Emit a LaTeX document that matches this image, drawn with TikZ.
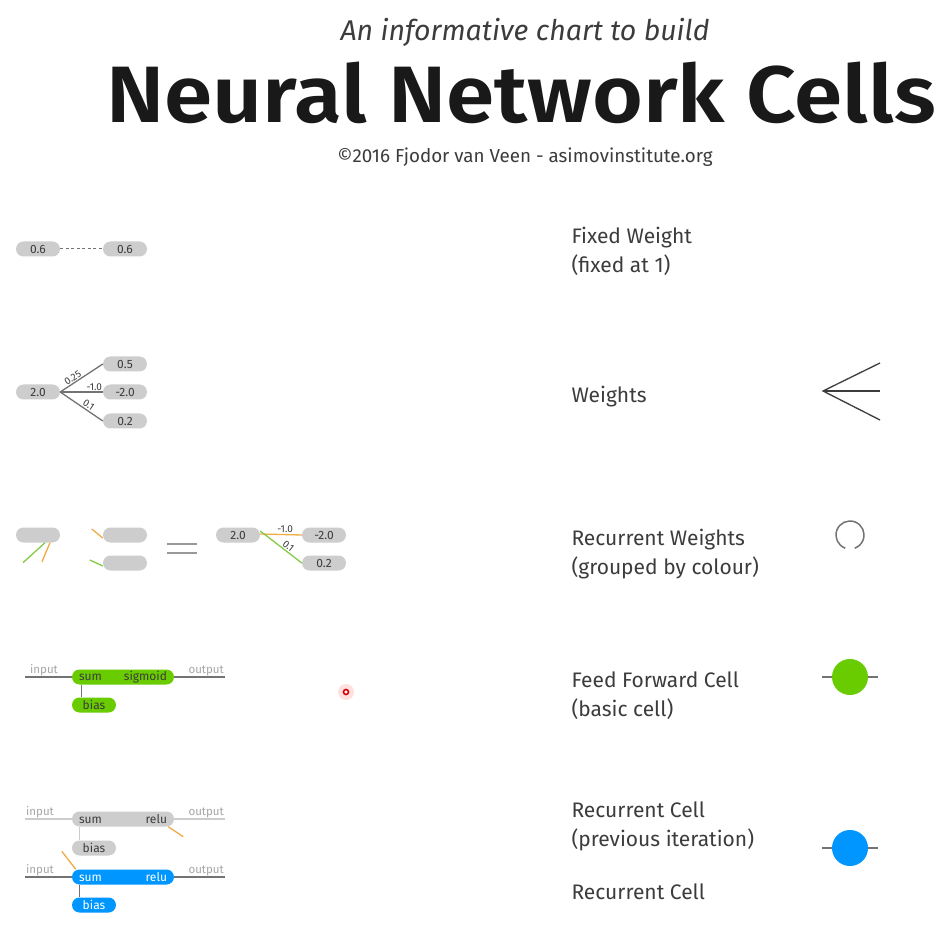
\documentclass[tikz,border=0pt]{standalone}
\usepackage{fontspec}
\setmainfont{Fira Sans}
\newfontfamily\titlefont{Fira Sans SemiBold}
\usetikzlibrary{positioning}

\definecolor{cellgreen}{RGB}{104,204,0}
\definecolor{cellblue}{RGB}{0,150,255}
\definecolor{pillgray}{RGB}{205,205,205}
\definecolor{wireorange}{RGB}{240,170,70}
\definecolor{wiregreen}{RGB}{130,205,70}
\definecolor{inkgray}{RGB}{60,60,60}

\begin{document}
\begin{tikzpicture}[
    x=1pt, y=-1pt,
    pill/.style={fill=pillgray, rounded corners=7.5pt, minimum width=44pt,
        minimum height=15pt, inner sep=0pt, text=inkgray,
        font=\fontsize{12}{12}\selectfont},
    cellpill/.style={pill, minimum width=102pt, text width=88pt, align=left},
    lbl/.style={anchor=west, align=left, text=inkgray,
        font=\fontsize{21}{29}\selectfont},
    io/.style={text=gray!70, font=\fontsize{11.5}{11.5}\selectfont, inner sep=1pt},
    wlbl/.style={text=inkgray, font=\fontsize{10}{10}\selectfont, inner sep=0pt},
    wire/.style={draw=gray!90!black, line width=1.3pt},
    oldwire/.style={draw=gray!40, line width=1.3pt},
]
    \useasboundingbox[fill=white] (0,0) rectangle (946,941);

    % heading
    \node[text=inkgray, font=\fontsize{28.5}{28.5}\selectfont\itshape] (sub) at (525,32)
        {An informative chart to build};
    \node[text=black!90, font=\fontsize{80}{80}\titlefont] (title) at (521,93)
        {\scalebox{1.09}[1]{Neural Network Cells}};
    \node[text=inkgray, font=\fontsize{18.8}{18.8}\selectfont] (credit) at (525,157)
        {©2016 Fjodor van Veen - asimovinstitute.org};

    % fixed weight
    \node[pill] (fa) at (38,249) {0.6};
    \node[pill] (fb) at (125,249) {0.6};
    \draw[wire, dashed, line width=1pt, dash pattern=on 3pt off 2.5pt] (fa) -- (fb);
    \node[lbl] (lfixed) at (568,251) {Fixed Weight\\(fixed at 1)};

    % weights
    \node[pill] (wsrc) at (38,392) {2.0};
    \node[pill] (wa) at (125,364) {0.5};
    \node[pill] (wb) at (125,392) {-2.0};
    \node[pill] (wc) at (125,421) {0.2};
    \draw[wire] (wsrc.east) -- (wa.west)
        node[wlbl, pos=0.36, above=1pt, sloped] {0.25};
    \draw[wire] (wsrc.east) -- (wb.west) node[wlbl, pos=0.8, above=1pt] {-1.0};
    \draw[wire] (wsrc.east) -- (wc.west)
        node[wlbl, pos=0.6, above=1pt, sloped] {0.1};
    \node[lbl] (lweights) at (568,397) {Weights};
    \coordinate (wapex) at (823,391);
    \draw[wire, draw=inkgray] (880,363) -- (wapex) -- (880,420);
    \draw[wire, draw=inkgray] (wapex) -- (880,391);

    % recurrent weights
    \node[pill] (ra) at (38,535) {};
    \draw[wiregreen, line width=1.3pt] ([xshift=7pt]ra.south) -- ++(-22,20);
    \draw[wireorange, line width=1.3pt] ([xshift=12pt]ra.south) -- ++(-8,19);
    \node[pill] (rb) at (125,535) {};
    \node[pill] (rc) at (125,563) {};
    \draw[wireorange, line width=1.3pt] ([yshift=-3pt]rb.west) -- ++(-11,-9);
    \draw[wiregreen, line width=1.3pt] ([yshift=-3pt]rc.west) -- ++(-13,-6);
    \draw[gray!80, line width=1.6pt] (167,544) -- (197,544) (167,553) -- (197,553);
    \node[pill] (rsrc) at (238,535) {2.0};
    \node[pill] (rd) at (324,535) {-2.0};
    \node[pill] (re) at (324,563) {0.2};
    \draw[wireorange, line width=1.3pt] ([yshift=1pt]rsrc.east) -- (rd.west)
        node[wlbl, pos=0.6, above=1pt] {-1.0};
    \draw[wiregreen, line width=1.3pt] ([yshift=4pt]rsrc.east) -- (re.west)
        node[wlbl, pos=0.6, above=1pt, sloped] {0.1};
    \node[lbl] (lrec) at (568,554) {Recurrent Weights\\(grouped by colour)};
    \coordinate (rloop) at (850,535);
    \draw[gray!90!black, line width=1.5pt] (rloop) ++(110:14) arc (110:430:14);

    % feed forward cell
    \coordinate (ffin) at (25,677);
    \coordinate (ffout) at (225,677);
    \node[cellpill, fill=cellgreen] (ffcell) at (123,677) {sum\hfill sigmoid};
    \node[pill, fill=cellgreen] (ffbias) at (94,705) {bias};
    \draw[wire] (ffin) -- (ffcell.west);
    \draw[wire] (ffcell.east) -- (ffout);
    \draw[wire] ([xshift=10pt]ffcell.south west) -- ([xshift=10pt]ffbias.north west);
    \node[io, anchor=south west] (ffinl) at (ffin) {\hspace{4pt}input};
    \node[io, anchor=south east] (ffoutl) at (ffout) {output};
    \node[lbl] (lff) at (568,696) {Feed Forward Cell\\(basic cell)};
    \draw[wire] (822,677) -- (878,677);
    \node[circle, fill=cellgreen, minimum size=36pt, inner sep=0pt] (ffdot) at (850,677) {};

    % pointer mark
    \node[circle, fill=red!12, minimum size=16pt, inner sep=0pt] (ptr) at (346,692) {};
    \node[circle, draw=red!85!black, fill=white, line width=1.6pt,
        minimum size=5pt, inner sep=0pt] (ptrdot) at (ptr) {};

    % recurrent cell, previous iteration
    \coordinate (pin) at (25,819);
    \coordinate (pout) at (225,819);
    \node[cellpill] (pcell) at (123,819) {sum\hfill relu};
    \node[pill] (pbias) at (94,848) {bias};
    \draw[oldwire] (pin) -- (pcell.west);
    \draw[oldwire] (pcell.east) -- (pout);
    \draw[oldwire] ([xshift=8pt]pcell.south west) -- ([xshift=8pt]pbias.north west);
    \node[io, anchor=south west] (pinl) at (pin) {input};
    \node[io, anchor=south east] (poutl) at (pout) {output};
    \draw[wireorange, line width=1.3pt] ([xshift=-6pt]pcell.south east) -- ++(15,10);

    % recurrent cell
    \coordinate (cin) at (25,877);
    \coordinate (cout) at (225,877);
    \node[cellpill, fill=cellblue, text=white] (ccell) at (123,877) {sum\hfill relu};
    \node[pill, fill=cellblue, text=white] (cbias) at (94,905) {bias};
    \draw[wire] (cin) -- (ccell.west);
    \draw[wire] (ccell.east) -- (cout);
    \draw[wire] ([xshift=8pt]ccell.south west) -- ([xshift=8pt]cbias.north west);
    \node[io, anchor=south west] (cinl) at (cin) {input};
    \node[io, anchor=south east] (coutl) at (cout) {output};
    \draw[wireorange, line width=1.3pt] ([xshift=4pt]ccell.north west) -- ++(-14,-18);

    \node[lbl] (lprev) at (568,826) {Recurrent Cell\\(previous iteration)};
    \node[lbl] (lcell) at (568,892) {Recurrent Cell};
    \draw[wire] (822,848) -- (878,848);
    \node[circle, fill=cellblue, minimum size=36pt, inner sep=0pt] (cdot) at (850,848) {};
\end{tikzpicture}
\end{document}
